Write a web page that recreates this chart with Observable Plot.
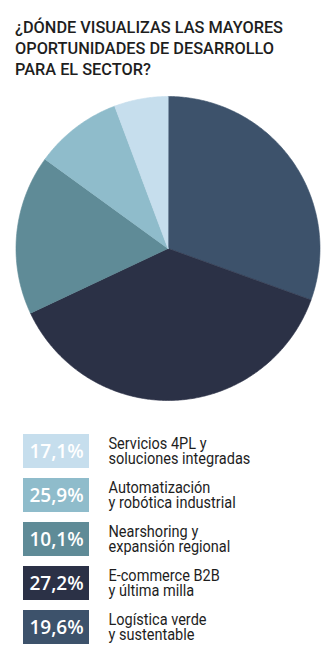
<!DOCTYPE html>
<html>
<head>
<meta charset="utf-8">
<script src="https://cdn.jsdelivr.net/npm/d3@7"></script>
<script src="https://cdn.jsdelivr.net/npm/@observablehq/plot@0.6"></script>
<style>
  html, body { margin: 0; padding: 0; background: #fff; }
  #title {
    box-sizing: border-box; height: 90px; padding: 17px 0 0 15px; overflow: hidden;
    font-family: Roboto, "Noto Sans", sans-serif;
    font-weight: 500; font-size: 17px; line-height: 21px; color: #1e1e1e;
  }
  #tt { display: inline-block; white-space: nowrap; transform-origin: 0 0; }
  svg { display: block; }
</style>
</head>
<body>
<div id="title"><span id="tt">¿DÓNDE VISUALIZAS LAS MAYORES<br>OPORTUNIDADES DE DESARROLLO<br>PARA EL SECTOR?</span></div>
<div id="pie"></div>
<div id="legend"></div>
<script>
// Legend categories (top to bottom)
const categories = [
  "Servicios 4PL y\nsoluciones integradas",
  "Automatización\ny robótica industrial",
  "Nearshoring y\nexpansión regional",
  "E-commerce B2B\ny última milla",
  "Logística verde\ny sustentable"
];
// Percent labels printed in the legend boxes
const legendLabels = ["17,1%", "25,9%", "10,1%", "27,2%", "19,6%"];
// Slice shares as drawn in the pie
const sliceShares = [5.7, 9.3, 17.0, 37.5, 30.5];
// Clockwise order of slices from 12 o'clock
const pieOrder = [4, 3, 2, 1, 0];
const colors = ["#c6deed", "#8fbccb", "#5f8b97", "#2b3146", "#3d526b"];

const colorScale = {type: "ordinal", domain: [0, 1, 2, 3, 4], range: colors};

// condense title to the reference width
const tt = document.getElementById("tt");
const tw = tt.getBoundingClientRect().width;
tt.style.transform = `scaleX(${268 / tw})`;

const arcs = d3.pie().sort(null).value(i => sliceShares[i])(pieOrder);
const piePts = arcs.flatMap(a => {
  const n = Math.max(2, Math.ceil((a.endAngle - a.startAngle) / 0.01));
  const pts = [{k: a.data, x: 0, y: 0}];
  for (let j = 0; j <= n; j++) {
    const t = a.startAngle + (a.endAngle - a.startAngle) * j / n;
    pts.push({k: a.data, x: Math.sin(t), y: Math.cos(t)});
  }
  return pts;
});

const pie = Plot.plot({
  width: 335, height: 320,
  marginLeft: 15.5, marginRight: 15.5, marginTop: 6, marginBottom: 10,
  x: {domain: [-1, 1], axis: null},
  y: {domain: [-1, 1], axis: null},
  color: colorScale,
  marks: [
    Plot.line(piePts, {x: "x", y: "y", z: "k", fill: "k", stroke: "k", strokeWidth: 0.6, curve: "linear-closed"})
  ]
});
document.getElementById("pie").appendChild(pie);

const rows = categories.map((c, i) => ({label: c, pct: legendLabels[i], i}));
const legend = Plot.plot({
  width: 335, height: 255,
  marginLeft: 23, marginRight: 246, marginTop: 22, marginBottom: 18,
  x: {domain: [0, 1], axis: null},
  y: {type: "band", domain: categories, paddingInner: 0.222, paddingOuter: 0, axis: null},
  color: colorScale,
  marks: [
    Plot.barX(rows, {x1: 0, x2: 1, y: "label", fill: "i"}),
    Plot.text(rows, {x: 0.5, y: "label", text: "pct", fill: "white", fontSize: 19, fontWeight: 600, fontFamily: "'Open Sans', sans-serif"}),
    Plot.text(rows, {x: 1, dx: 19, y: "label", text: "label", textAnchor: "start", fontSize: 17, lineHeight: 0.9, fill: "#1e1e1e", fontFamily: "Roboto, 'Noto Sans', sans-serif"})
  ]
});
document.getElementById("legend").appendChild(legend);

// condense legend labels and percent labels
function condense(group, s) {
  group.querySelectorAll("text").forEach(t => {
    const tr = t.getAttribute("transform");
    if (tr) t.setAttribute("transform", tr + ` scale(${s},1)`);
    else {
      const x = +t.getAttribute("x") || 0, y = +t.getAttribute("y") || 0;
      t.removeAttribute("x"); t.removeAttribute("y");
      t.setAttribute("transform", `translate(${x},${y}) scale(${s},1)`);
    }
  });
}
const textGroups = legend.querySelectorAll('g[aria-label="text"]');
const labelGroup = textGroups[1];
const longest = labelGroup.querySelectorAll("text")[0];
const wLong = longest.getBBox().width;
condense(labelGroup, 142 / wLong);
const pctGroup = textGroups[0];
const wPct = pctGroup.querySelectorAll("text")[3].getBBox().width;
condense(pctGroup, Math.min(1, 56 / wPct));
</script>
</body>
</html>
